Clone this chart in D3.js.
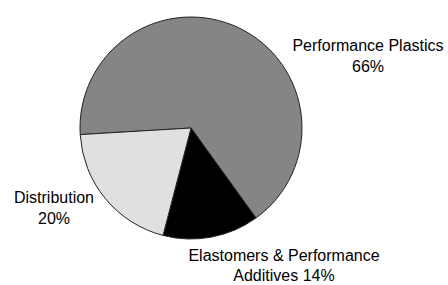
<!DOCTYPE html>
<html><head><meta charset="utf-8">
<script src="https://cdn.jsdelivr.net/npm/d3@7"></script>
<style>html,body{margin:0;padding:0;background:#fff;}svg{display:block;}</style>
</head><body>
<svg id="chart" width="448" height="285"></svg>
<script>
const categories = ["Performance Plastics", "Elastomers & Performance Additives", "Distribution"];
const values = [66, 14, 20];
const colors = ["#858585", "#000000", "#e0e0e0"];
const labelLines = [
  ["Performance Plastics", "66%"],
  ["Elastomers & Performance", "Additives 14%"],
  ["Distribution", "20%"]
];

const svg = d3.select("#chart");
const cx = 191, cy = 128, r = 111;
const startDeg = 266.6;
const pie = d3.pie().sort(null).value(d => d)
  .startAngle(startDeg * Math.PI / 180)
  .endAngle((startDeg + 360) * Math.PI / 180);
const arcs = pie(values);
const arc = d3.arc().innerRadius(0).outerRadius(r);

const g = svg.append("g").attr("transform", `translate(${cx},${cy})`);
g.selectAll("path").data(arcs).join("path")
  .attr("d", arc)
  .attr("fill", (d, i) => colors[i])
  .attr("stroke", "#222")
  .attr("stroke-width", 1);

const labelPos = [[368, 51], [284, 261], [54, 203]];
const lineH = [21, 20, 21];
labelLines.forEach((lines, i) => {
  const t = svg.append("text")
    .attr("x", labelPos[i][0]).attr("y", labelPos[i][1])
    .attr("text-anchor", "middle")
    .attr("font-family", "Liberation Sans, Arial, sans-serif")
    .attr("font-size", 16)
    .attr("fill", "#000");
  lines.forEach((l, j) => {
    t.append("tspan").attr("x", labelPos[i][0]).attr("dy", j === 0 ? 0 : lineH[i]).text(l);
  });
});
</script>
</body></html>
